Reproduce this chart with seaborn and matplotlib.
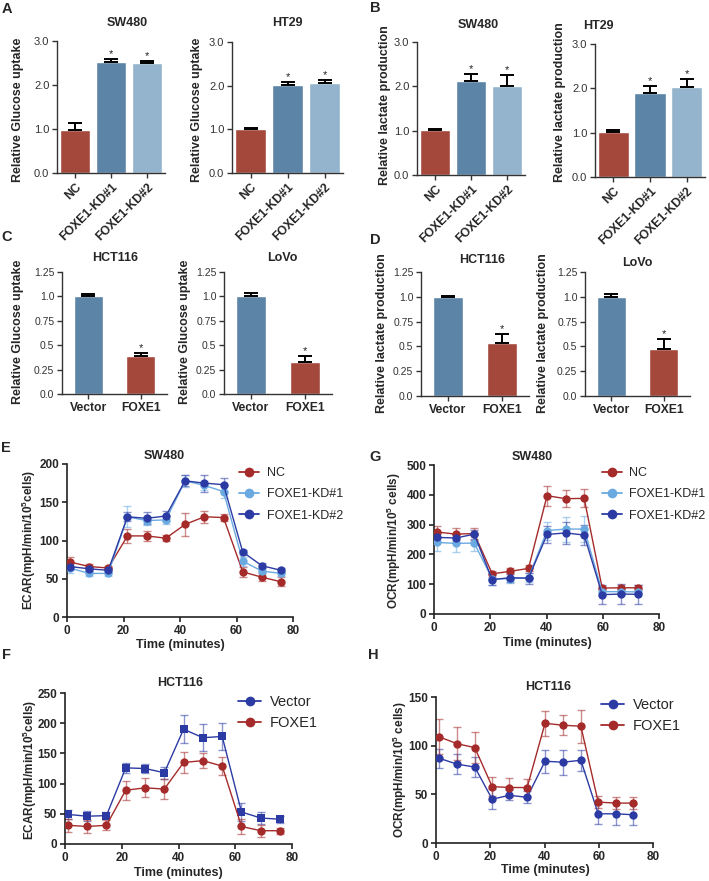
import numpy as np
import pandas as pd
import matplotlib
matplotlib.use("Agg")
import matplotlib.pyplot as plt
from matplotlib.lines import Line2D
import seaborn as sns

# ---------------- bar data (relative values, upper SEM) ----------------
kd_groups = ["NC", "FOXE1-KD#1", "FOXE1-KD#2"]
oe_groups = ["Vector", "FOXE1"]

glu_sw480 = [0.98, 2.52, 2.49]
glu_sw480_err = [0.15, 0.07, 0.06]
glu_ht29 = [1.00, 2.01, 2.06]
glu_ht29_err = [0.02, 0.07, 0.07]
lac_sw480 = [1.01, 2.12, 2.00]
lac_sw480_err = [0.03, 0.15, 0.25]
lac_ht29 = [1.01, 1.89, 2.03]
lac_ht29_err = [0.05, 0.17, 0.18]

glu_hct116 = [1.00, 0.39]
glu_hct116_err = [0.02, 0.03]
glu_lovo = [1.00, 0.33]
glu_lovo_err = [0.03, 0.06]
lac_hct116 = [1.00, 0.53]
lac_hct116_err = [0.005, 0.09]
lac_lovo = [1.00, 0.47]
lac_lovo_err = [0.03, 0.10]

# ---------------- seahorse traces ----------------
ecar_time = [1.0, 7.8, 14.6, 21.4, 28.2, 35.0, 41.8, 48.6, 55.4, 62.2, 69.0, 75.8]
ocr_time = [1.2, 7.8, 14.3, 20.7, 27.0, 33.6, 40.2, 46.8, 53.4, 59.8, 66.5, 72.7]

ecar_sw_nc = [72, 66, 64, 106, 106, 103, 121, 131, 130, 59, 52, 46]
ecar_sw_nc_err = [7, 3, 3, 9, 6, 4, 15, 8, 5, 7, 5, 6]
ecar_sw_kd1 = [64, 57, 57, 131, 126, 127, 178, 172, 164, 73, 60, 57]
ecar_sw_kd1_err = [6, 3, 3, 14, 6, 5, 8, 6, 8, 6, 4, 3]
ecar_sw_kd2 = [66, 63, 61, 131, 129, 132, 178, 175, 173, 85, 67, 61]
ecar_sw_kd2_err = [5, 3, 3, 6, 8, 7, 7, 11, 9, 3, 3, 3]

ocr_sw_nc = [275, 268, 270, 135, 143, 153, 397, 387, 388, 87, 88, 88]
ocr_sw_nc_err = [20, 20, 20, 10, 10, 10, 33, 28, 30, 8, 8, 8]
ocr_sw_kd1 = [240, 237, 238, 118, 118, 122, 280, 285, 285, 75, 75, 74]
ocr_sw_kd1_err = [28, 30, 28, 20, 15, 15, 30, 42, 45, 10, 10, 10]
ocr_sw_kd2 = [257, 255, 268, 115, 122, 120, 267, 272, 265, 65, 67, 66]
ocr_sw_kd2_err = [15, 15, 15, 18, 15, 18, 28, 38, 32, 32, 32, 32]

ecar_hct_vec = [49, 46, 47, 126, 125, 118, 190, 176, 178, 53, 43, 41]
ecar_hct_vec_err = [7, 8, 6, 8, 8, 10, 23, 22, 22, 15, 10, 6]
ecar_hct_foxe1 = [31, 29, 31, 89, 93, 91, 135, 138, 129, 29, 22, 22]
ecar_hct_foxe1_err = [11, 10, 8, 16, 16, 16, 17, 12, 15, 12, 10, 5]

ocr_hct_vec = [87, 81, 78, 45, 49, 47, 84, 83, 85, 30, 30, 29]
ocr_hct_vec_err = [10, 10, 10, 10, 5, 6, 12, 13, 11, 10, 11, 11]
ocr_hct_foxe1 = [109, 102, 98, 58, 57, 57, 123, 121, 120, 42, 41, 41]
ocr_hct_foxe1_err = [18, 17, 16, 10, 10, 9, 13, 10, 17, 6, 6, 6]

# ---------------- style ----------------
RED = "#a5483c"
BLUE = "#5c84a6"
LIGHT = "#93b4cc"
L_RED = "#a52b2b"
L_LIGHT = "#6aaae0"
L_DARK = "#2c3ba3"

sns.set_style("ticks")
plt.rcParams["font.family"] = ["Liberation Sans", "DejaVu Sans"]
plt.rcParams["mathtext.fontset"] = "custom"
plt.rcParams["mathtext.rm"] = "Liberation Sans"
plt.rcParams["mathtext.bf"] = "Liberation Sans:bold"

W, H = 709, 881
fig = plt.figure(figsize=(W / 100, H / 100), dpi=100)


def px_ax(l, t, r, b):
    return fig.add_axes([l / W, 1 - b / H, (r - l) / W, (b - t) / H])


def px_text(x, y, s, **kw):
    kw.setdefault("ha", "center")
    kw.setdefault("va", "center")
    fig.text(x / W, 1 - y / H, s, **kw)


def bar_panel(box, groups, vals, errs, colors, ymax, ticks, ticklabels,
              width, rotate, xfs, yfs):
    ax = px_ax(*box)
    df = pd.DataFrame({"group": groups, "value": vals})
    sns.barplot(data=df, x="group", y="value", hue="group", palette=colors,
                width=width, saturation=1, legend=False, errorbar=None, ax=ax)
    x = np.arange(len(groups))
    ax.errorbar(x, vals, yerr=[np.zeros(len(vals)), errs], fmt="none",
                ecolor="black", elinewidth=1.4, capsize=5, capthick=1.4)
    for i in range(1, len(groups)):
        ax.text(i, vals[i] + errs[i], "*", ha="center", va="bottom",
                fontsize=8, color="#222222")
    ax.set_xlim(-0.5, len(groups) - 0.5)
    ax.set_ylim(0, ymax)
    ax.set_yticks(ticks)
    ax.set_yticklabels(ticklabels, fontsize=yfs, color="#333333")
    ax.set_xticks(x)
    if rotate:
        ax.set_xticklabels(groups, rotation=45, ha="right",
                           rotation_mode="anchor", fontsize=xfs,
                           fontweight="bold")
    else:
        ax.set_xticklabels(groups, fontsize=xfs, fontweight="bold")
    ax.set_xlabel("")
    ax.set_ylabel("")
    ax.tick_params(length=3.5, width=1.0, color="#333333", pad=2)
    sns.despine(ax=ax)
    for s in ("left", "bottom"):
        ax.spines[s].set_linewidth(1.0)
        ax.spines[s].set_color("#333333")
    return ax


def line_panel(box, time, names, vals_list, errs_list, colors, markers,
               ymax, yticks, leg_xy, leg_fs, leg_sp):
    ax = px_ax(*box)
    df = pd.concat([pd.DataFrame({"time": time, "value": v, "group": n})
                    for n, v in zip(names, vals_list)], ignore_index=True)
    for v, e, c in zip(vals_list, errs_list, colors):
        ax.errorbar(time, v, yerr=e, fmt="none", ecolor=c, alpha=0.55,
                    elinewidth=1.0, capsize=3, capthick=1.0, zorder=2)
    sns.lineplot(data=df, x="time", y="value", hue="group", style="group",
                 palette=dict(zip(names, colors)),
                 markers=dict(zip(names, markers)), dashes=False,
                 markersize=6, markeredgewidth=0, linewidth=1.0,
                 errorbar=None, legend=False, ax=ax, zorder=3)
    ax.set_xlim(0, 80)
    ax.set_ylim(0, ymax)
    ax.set_xticks([0, 20, 40, 60, 80])
    ax.set_yticks(yticks)
    ax.set_xlabel("")
    ax.set_ylabel("")
    for lab in ax.get_xticklabels() + ax.get_yticklabels():
        lab.set_fontweight("bold")
        lab.set_fontsize(8.5)
    ax.tick_params(length=3.5, width=1.2, color="#222222", pad=2)
    sns.despine(ax=ax)
    for s in ("left", "bottom"):
        ax.spines[s].set_linewidth(1.2)
        ax.spines[s].set_color("#222222")
    handles = [Line2D([], [], color=c, marker="o", markersize=7, lw=1.3,
                      markeredgewidth=0) for c in colors]
    ax.legend(handles, names, loc="upper left",
              bbox_to_anchor=(leg_xy[0] / W, 1 - leg_xy[1] / H),
              bbox_transform=fig.transFigure, frameon=False,
              fontsize=leg_fs, handlelength=1.6, handletextpad=0.6,
              labelspacing=leg_sp, borderpad=0, borderaxespad=0)
    return ax


kd_cols = [RED, BLUE, LIGHT]
oe_cols = [BLUE, RED]
t30 = [0, 1, 2, 3]
t30l = ["0.0", "1.0", "2.0", "3.0"]
t125 = [0, 0.25, 0.5, 0.75, 1.0, 1.25]
t125l = ["0.0", "0.25", "0.5", "0.75", "1.0", "1.25"]

# A / B
bar_panel((57, 41, 165, 173), kd_groups, glu_sw480, glu_sw480_err, kd_cols,
          3.0, t30, t30l, 0.85, True, 8.8, 8)
bar_panel((232, 42, 343, 173), kd_groups, glu_ht29, glu_ht29_err, kd_cols,
          3.0, t30, t30l, 0.85, True, 8.8, 8)
bar_panel((417, 42, 525, 175), kd_groups, lac_sw480, lac_sw480_err, kd_cols,
          3.0, t30, t30l, 0.85, True, 8.8, 8)
bar_panel((595, 44, 705, 177), kd_groups, lac_ht29, lac_ht29_err, kd_cols,
          3.0, t30, t30l, 0.85, True, 8.8, 8)

# C / D
bar_panel((62, 272, 167, 394), oe_groups, glu_hct116, glu_hct116_err, oe_cols,
          1.25, t125, t125l, 0.56, False, 8.7, 7.5)
bar_panel((224, 272, 332, 394), oe_groups, glu_lovo, glu_lovo_err, oe_cols,
          1.25, t125, t125l, 0.56, False, 8.7, 7.5)
bar_panel((421, 272, 529, 396), oe_groups, lac_hct116, lac_hct116_err, oe_cols,
          1.25, t125, t125l, 0.56, False, 8.7, 7.5)
bar_panel((585, 272, 690, 396), oe_groups, lac_lovo, lac_lovo_err, oe_cols,
          1.25, t125, t125l, 0.56, False, 8.7, 7.5)

# E / G / F / H
line_panel((67, 464, 293, 617), ecar_time, ["NC", "FOXE1-KD#1", "FOXE1-KD#2"],
           [ecar_sw_nc, ecar_sw_kd1, ecar_sw_kd2],
           [ecar_sw_nc_err, ecar_sw_kd1_err, ecar_sw_kd2_err],
           [L_RED, L_LIGHT, L_DARK], ["o", "o", "o"],
           200, [0, 50, 100, 150, 200], (239, 467), 9, 0.75)
line_panel((434, 465, 659, 614), ocr_time, ["NC", "FOXE1-KD#1", "FOXE1-KD#2"],
           [ocr_sw_nc, ocr_sw_kd1, ocr_sw_kd2],
           [ocr_sw_nc_err, ocr_sw_kd1_err, ocr_sw_kd2_err],
           [L_RED, L_LIGHT, L_DARK], ["o", "o", "o"],
           500, [0, 100, 200, 300, 400, 500], (602, 467), 9, 0.75)
line_panel((65, 693, 292, 844), ecar_time, ["Vector", "FOXE1"],
           [ecar_hct_vec, ecar_hct_foxe1],
           [ecar_hct_vec_err, ecar_hct_foxe1_err],
           [L_DARK, L_RED], ["s", "o"],
           250, [0, 50, 100, 150, 200, 250], (238, 695), 10.5, 0.5)
line_panel((436, 697, 653, 843), ocr_time, ["Vector", "FOXE1"],
           [ocr_hct_vec, ocr_hct_foxe1],
           [ocr_hct_vec_err, ocr_hct_foxe1_err],
           [L_DARK, L_RED], ["o", "o"],
           150, [0, 50, 100, 150], (601, 698), 10.5, 0.5)

# titles
for x, y, s in [(127, 23, "SW480"), (287, 23, "HT29"), (478, 25, "SW480"),
                (598, 26, "HT29"), (115, 258, "HCT116"), (282, 258, "LoVo"),
                (482, 260, "HCT116"), (637, 263, "LoVo"), (164, 456, "SW480"),
                (532, 457, "SW480"), (180, 683, "HCT116"), (548, 687, "HCT116")]:
    px_text(x, y, s, fontsize=9, fontweight="bold")

# y labels
for x, y, s in [(18, 110, "Relative Glucose uptake"),
                (197, 110, "Relative Glucose uptake"),
                (385, 105, "Relative lactate production"),
                (560, 102, "Relative lactate production"),
                (18, 332, "Relative Glucose uptake"),
                (185, 332, "Relative Glucose uptake"),
                (382, 333, "Relative lactate production"),
                (543, 333, "Relative lactate production")]:
    px_text(x, y, s, fontsize=9, fontweight="bold", rotation=90)

for x, y, s in [(29, 540, r"ECAR(mpH/min/10$^\mathbf{5}$cells)"),
                (394, 541, r"OCR(mpH/min/10$^\mathbf{5}$ cells)"),
                (30, 770, r"ECAR(mpH/min/10$^\mathbf{5}$cells)"),
                (400, 770, r"OCR(mpH/min/10$^\mathbf{5}$ cells)")]:
    px_text(x, y, s, fontsize=8.5, fontweight="bold", rotation=90)

# x labels
for x, y in [(180, 645), (547, 643), (178, 873), (545, 870)]:
    px_text(x, y, "Time (minutes)", fontsize=9, fontweight="bold")

# panel letters
for x, y, s in [(7, 9, "A"), (375, 8, "B"), (7, 237, "C"), (375, 240, "D"),
                (6, 448, "E"), (375, 457, "G"), (6, 655, "F"), (373, 655, "H")]:
    px_text(x, y, s, fontsize=10.5, fontweight="bold")

fig.savefig("out.png", dpi=100, facecolor="white")
